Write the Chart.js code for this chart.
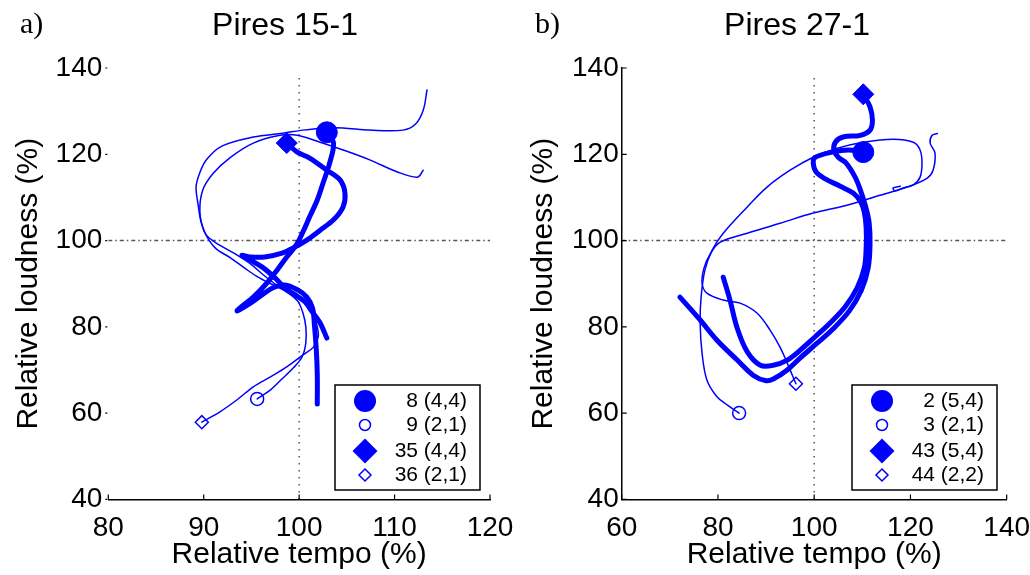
<!DOCTYPE html>
<html>
<head>
<meta charset="utf-8">
<script src="https://cdn.jsdelivr.net/npm/chart.js@4.4.1/dist/chart.umd.min.js"></script>
<style>
  html, body { margin: 0; padding: 0; background: #fff; }
  .panel { position: absolute; top: 0; width: 515px; height: 575px; }
</style>
</head>
<body>
<div class="panel" style="left:0"><canvas id="chartA" width="515" height="575"></canvas></div>
<div class="panel" style="left:515px"><canvas id="chartB" width="515" height="575"></canvas></div>
<script>
// Panel a) Pires 15-1 : relative tempo (x) vs relative loudness (y)
const aTempo8  = [102.9,103.6,103.2,102.5,101.9,101.1,100.4,99.7,98.7,97.7,96.6,95.2,93.8,93.5,94.9,96.1,97.2,98.5,99.9,100.8,101.4,101.6,101.8,101.9,101.9];
const aLoud8   = [125.1,122.6,118.0,113.3,109.4,105.5,102.0,99.0,96.2,93.2,90.1,86.9,84.4,83.7,85.5,87.4,89.0,89.7,88.5,86.9,84.4,80.4,74.6,68.8,62.1];
const aTempo9  = [95.6,97.0,98.0,99.4,100.3,100.7,100.7,100.4,99.9,99.0,97.8,96.9,95.7,94.3,92.8,91.2,90.1,89.6,89.9,91.0,92.8,95.2,98.0,99.8,102.2,104.6,107.4,110.3,112.4,113.0];
const aLoud9   = [63.3,65.4,67.5,70.5,73.0,76.3,80.0,83.2,85.8,87.6,89.2,90.1,91.5,93.6,96.0,98.3,102.0,106.5,111.7,115.6,119.3,122.6,124.4,124.4,122.8,121.0,118.7,115.9,114.7,116.3];
const aTempo35 = [98.7,99.8,101.1,102.9,104.3,104.8,104.6,103.6,102.2,100.8,99.4,98.2,96.4,94.9,94.0,94.7,96.1,97.5,98.5,99.6,100.6,101.4,102.2,102.9];
const aLoud35  = [122.6,120.5,119.1,116.3,114.0,111.0,107.8,104.8,102.4,100.1,98.3,97.1,96.2,96.2,96.6,95.7,93.9,91.3,89.0,87.4,85.8,83.4,80.9,77.4];
const aTempo36 = [89.8,91.7,93.5,95.2,97.0,98.7,100.4,101.5,102.0,101.9,101.5,100.6,99.6,98.2,97.2,96.1,94.9,93.3,91.2,90.2,89.7,89.4,89.2,89.6,90.3,91.9,95.2,98.3,100.4,102.9,104.6,107.4,110.9,112.2,113.0,113.4];
const aLoud36  = [57.9,60.3,63.1,66.1,68.4,70.7,73.5,75.3,77.7,80.0,82.8,85.5,87.6,88.8,90.4,92.3,94.6,96.9,99.6,101.5,104.5,108.5,112.5,115.8,118.8,121.9,124.0,124.9,125.6,126.1,126.1,125.6,125.6,127.0,130.2,134.9];
const aLegend  = ['8 (4,4)', '9 (2,1)', '35 (4,4)', '36 (2,1)'];
const aTempoTicks = [80, 90, 100, 110, 120];

// Panel b) Pires 27-1
const bTempo2  = [110.2,107.1,103.7,100.2,99.8,100.4,102.3,105.4,108.1,109.6,110.4,110.8,110.8,110.4,108.9,106.4,103.3,100.2,97.1,94.4,91.5,88.8,86.1,84.0,82.5,81.1];
const bLoud2   = [120.5,121.0,120.5,119.3,118.0,115.9,114.3,112.6,111.0,109.1,106.6,102.9,98.3,93.6,89.0,84.6,80.9,77.7,74.6,72.3,71.1,71.1,74.2,79.7,86.2,91.5];
const bTempo3  = [84.4,81.9,79.8,77.7,76.7,76.3,76.5,77.3,78.8,81.1,86.1,90.2,95.0,99.8,104.8,110.2,116.4,120.6,122.0,122.4,122.0,120.6,118.5,116.8,116.4,117.9];
const bLoud3   = [60.0,61.9,63.8,67.7,73.9,80.9,86.9,93.2,97.8,101.7,107.8,112.4,116.3,119.3,121.4,122.8,123.5,122.8,121.0,118.0,114.7,112.9,112.2,111.5,112.2,112.6];
const bTempo43 = [110.2,111.6,112.1,111.6,109.6,106.0,104.4,104.1,105.0,106.6,108.5,109.6,110.6,111.4,111.6,111.2,109.8,107.3,103.9,100.6,97.1,94.4,91.5,90.0,87.3,84.0,79.8,76.3,72.1];
const bLoud43  = [133.9,131.0,127.9,125.6,124.4,124.0,122.8,121.0,119.3,118.0,114.7,111.7,108.2,104.3,99.0,93.6,88.5,83.7,79.5,76.2,72.8,70.0,67.9,67.5,68.8,72.3,76.9,81.6,86.9];
const bTempo44 = [96.2,94.4,92.9,90.8,88.1,84.6,81.1,77.7,76.7,77.1,78.4,80.4,86.1,92.9,99.8,106.8,113.7,119.3,123.5,124.7,125.1,124.1,124.5,125.6];
const bLoud44  = [66.8,71.6,75.3,79.3,83.2,85.5,86.2,87.8,90.1,93.6,96.9,99.6,101.7,104.0,106.4,108.2,110.5,112.4,114.5,116.3,120.3,122.6,124.4,124.8];
const bLegend  = ['2 (5,4)', '3 (2,1)', '43 (5,4)', '44 (2,2)'];
const bTempoTicks = [60, 80, 100, 120, 140];

const loudTicks = [40, 60, 80, 100, 120, 140];

const BLUE = '#0000ff';
const SANS = "'Liberation Sans', Arial, Helvetica, sans-serif";
Chart.defaults.font.family = SANS;

function zip(xs, ys) {
    return xs.map((x, i) => ({ x: x, y: ys[i] }));
}

function drawMarker(ctx, kind, filled, x, y, r) {
    ctx.beginPath();
    if (kind === 'circle') {
        ctx.arc(x, y, r, 0, Math.PI * 2);
    } else {
        ctx.moveTo(x, y - r); ctx.lineTo(x + r, y); ctx.lineTo(x, y + r); ctx.lineTo(x - r, y);
        ctx.closePath();
    }
    if (filled) { ctx.fillStyle = BLUE; ctx.fill(); }
    else { ctx.lineWidth = 1.5; ctx.strokeStyle = BLUE; ctx.stroke(); }
}

// labels, titles, inward ticks and the legend box
const decoPlugin = {
    id: 'deco',
    afterDraw(chart, args, o) {
        const ctx = chart.ctx;
        const xs = chart.scales.x, ys = chart.scales.y;
        const area = chart.chartArea;
        ctx.save();
        ctx.strokeStyle = '#000';
        ctx.lineWidth = 1.2;
        ctx.beginPath();
        xs.ticks.forEach(t => {
            const px = xs.getPixelForValue(t.value);
            ctx.moveTo(px, area.bottom); ctx.lineTo(px, area.bottom - 5);
        });
        ys.ticks.forEach(t => {
            const py = ys.getPixelForValue(t.value);
            if (o.leftAxis) { ctx.moveTo(area.left, py); ctx.lineTo(area.left + 5, py); }
            else { ctx.moveTo(area.left - 3, py); ctx.lineTo(area.left - 1, py); }
        });
        ctx.stroke();

        ctx.fillStyle = '#000';
        ctx.font = "30px 'Liberation Serif', 'Times New Roman', serif";
        ctx.textAlign = 'left';
        ctx.textBaseline = 'alphabetic';
        ctx.fillText(o.label, 20, 33);
        ctx.font = '32px ' + SANS;
        ctx.textAlign = 'center';
        ctx.fillText(o.title, o.titleX, 35);

        // legend
        ctx.lineWidth = 1.5;
        ctx.strokeStyle = '#000';
        ctx.strokeRect(o.boxX, 385, 145, 105);
        const rowY = [401, 425, 451, 475];
        const marks = [['circle', true, 11], ['circle', false, 5.5], ['diamond', true, 12.5], ['diamond', false, 6]];
        ctx.font = '21px ' + SANS;
        ctx.textAlign = 'right';
        ctx.textBaseline = 'middle';
        o.legend.forEach((txt, i) => {
            drawMarker(ctx, marks[i][0], marks[i][1], o.boxX + 30, rowY[i], marks[i][2]);
            ctx.fillStyle = '#000';
            ctx.fillText(txt, o.boxX + 132, rowY[i]);
        });
        ctx.restore();
    }
};

function curve(data, thick) {
    return {
        data: data, showLine: true, pointRadius: 0, borderColor: BLUE,
        borderWidth: thick ? 5 : 1.5, tension: 0.35, borderCapStyle: 'round',
        borderJoinStyle: 'round', order: 2
    };
}

function marker(pt, style, filled, r) {
    return {
        data: [pt], showLine: false, pointStyle: style, pointRadius: r,
        backgroundColor: filled ? BLUE : 'rgba(255,255,255,0)', borderColor: BLUE,
        borderWidth: filled ? 1 : 1.5, order: 1
    };
}

function refLine(data, dash) {
    return {
        data: data, showLine: true, pointRadius: 0, borderColor: '#555',
        borderWidth: 1.5, borderDash: dash, tension: 0, order: 3
    };
}

function makeChart(id, p) {
    const series = p.series;
    const datasets = [];
    series.forEach(s => {
        const pts = zip(s.tempo, s.loud);
        datasets.push(curve(pts, s.thick));
        datasets.push(marker(pts[0], s.kind === 'circle' ? 'circle' : 'rectRot', s.thick, s.thick ? 10.5 : 6.5));
    });
    const t = p.tempoTicks;
    datasets.push(refLine([{ x: 100, y: loudTicks[0] }, { x: 100, y: 138.7 }], [1.5, 5.5]));
    datasets.push(refLine([{ x: t[0], y: 100 }, { x: t[t.length - 1], y: 100 }], [4, 3, 1.5, 3]));

    new Chart(document.getElementById(id), {
        type: 'scatter',
        data: { datasets: datasets },
        options: {
            responsive: false,
            animation: false,
            devicePixelRatio: 1,
            layout: { padding: { left: 0, top: 68, right: p.rightPad, bottom: 0 } },
            plugins: {
                legend: { display: false },
                tooltip: { enabled: false },
                deco: p.deco
            },
            scales: {
                x: {
                    type: 'linear', min: t[0], max: t[t.length - 1],
                    afterBuildTicks: s => { s.ticks = t.map(v => ({ value: v })); },
                    afterFit: s => { s.height = 75.6; s.paddingLeft = 0; s.paddingRight = 0; },
                    grid: { display: false, drawTicks: false },
                    border: { display: true, color: '#000', width: 1.5 },
                    ticks: { color: '#000', font: { size: 28 }, padding: 12, maxRotation: 0, autoSkip: false },
                    title: { display: true, text: 'Relative tempo (%)', color: '#000',
                             font: { size: 30 }, padding: { top: 0, bottom: 2 } }
                },
                y: {
                    type: 'linear', min: loudTicks[0], max: loudTicks[loudTicks.length - 1],
                    afterBuildTicks: s => { s.ticks = loudTicks.map(v => ({ value: v })); },
                    afterFit: s => { s.width = p.leftW; s.paddingTop = 0; s.paddingBottom = 0; },
                    grid: { display: false, drawTicks: false },
                    border: { display: p.deco.leftAxis, color: '#000', width: 1.5 },
                    ticks: { color: '#000', font: { size: 28 }, padding: p.yPad, autoSkip: false },
                    title: { display: true, text: 'Relative loudness (%)', color: '#000',
                             font: { size: 30 }, padding: { top: 11, bottom: 0 } }
                }
            }
        },
        plugins: [decoPlugin]
    });
}

makeChart('chartA', {
    series: [
        { tempo: aTempo8, loud: aLoud8, thick: true, kind: 'circle' },
        { tempo: aTempo9, loud: aLoud9, thick: false, kind: 'circle' },
        { tempo: aTempo35, loud: aLoud35, thick: true, kind: 'diamond' },
        { tempo: aTempo36, loud: aLoud36, thick: false, kind: 'diamond' }
    ],
    tempoTicks: aTempoTicks, leftW: 108.3, rightPad: 25, yPad: 6,
    deco: { label: 'a)', title: 'Pires 15-1', titleX: 285, legend: aLegend, boxX: 335, leftAxis: false }
});

makeChart('chartB', {
    series: [
        { tempo: bTempo2, loud: bLoud2, thick: true, kind: 'circle' },
        { tempo: bTempo3, loud: bLoud3, thick: false, kind: 'circle' },
        { tempo: bTempo43, loud: bLoud43, thick: true, kind: 'diamond' },
        { tempo: bTempo44, loud: bLoud44, thick: false, kind: 'diamond' }
    ],
    tempoTicks: bTempoTicks, leftW: 106.7, rightPad: 23.3, yPad: 3,
    deco: { label: 'b)', title: 'Pires 27-1', titleX: 282, legend: bLegend, boxX: 337, leftAxis: true }
});
</script>
</body>
</html>
